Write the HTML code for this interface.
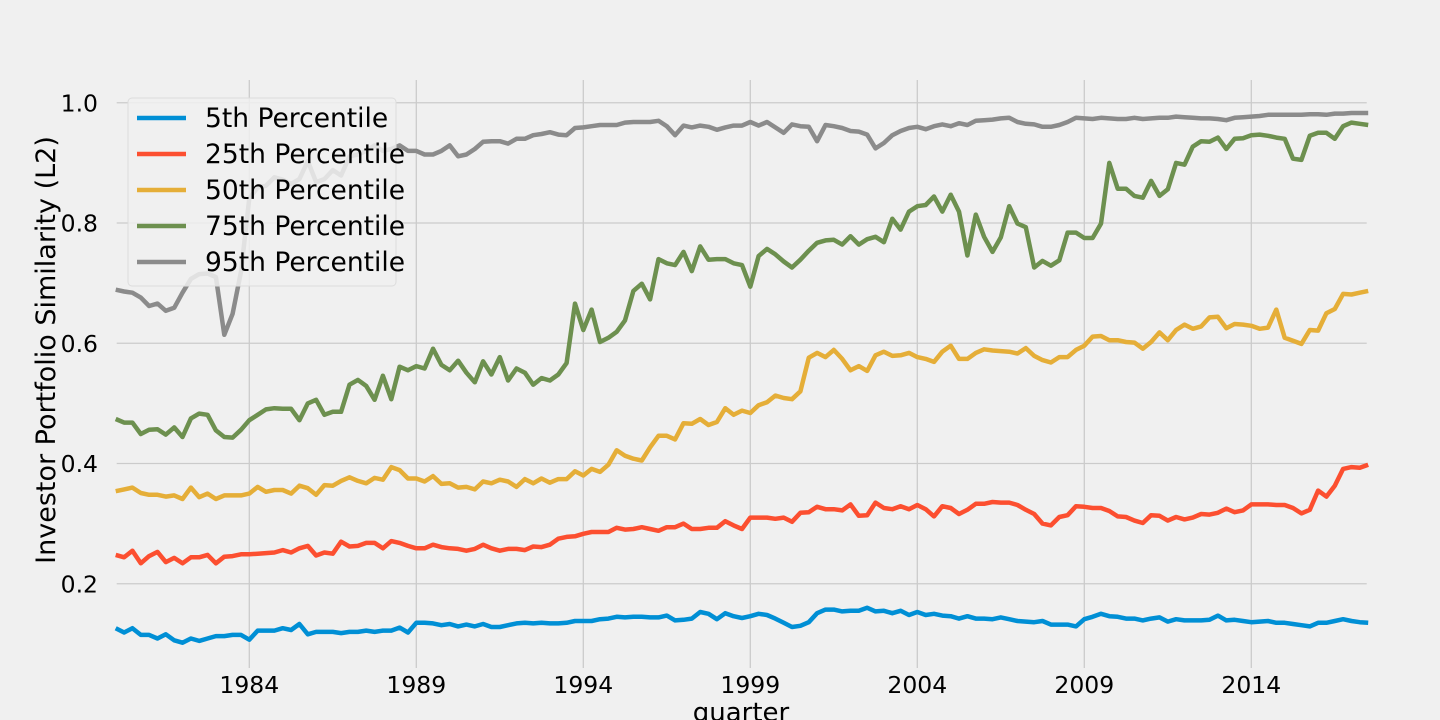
<!DOCTYPE html>
<html><head><meta charset="utf-8"><style>
html,body{margin:0;padding:0;background:#f0f0f0;}
svg{display:block;font-family:"DejaVu Sans","Liberation Sans",sans-serif;}
</style></head><body>
<svg id="chart" width="1440" height="720" viewBox="0 0 1440 720">
<rect x="0" y="0" width="1440" height="720" fill="#f0f0f0"/>
<g id="grid"></g>
<g id="yticks"></g>
<g id="xticks"></g>
<g id="series"></g>
<text x="55" y="350" font-size="27" text-anchor="middle" fill="#000" transform="rotate(-90 55 350)">Investor Portfolio Similarity (L2)</text>
<text x="741" y="721" font-size="26" text-anchor="middle" fill="#000">quarter</text>
<g id="legend"></g>
</svg>
<script>
const seriesNames = ["5th Percentile","25th Percentile","50th Percentile","75th Percentile","95th Percentile"];
const seriesColors = ["#008fd5","#fc4f30","#e5ae38","#6d904f","#8b8b8b"];
const startYear = 1980.0;
const yTicks = [0.2,0.4,0.6,0.8,1.0];
const yTickLabels = ["0.2","0.4","0.6","0.8","1.0"];
const xTicks = [1984,1989,1994,1999,2004,2009,2014];
const xTickLabels = ["1984","1989","1994","1999","2004","2009","2014"];
const p5 = [.126,.119,.126,.115,.115,.109,.116,.106,.102,.109,.105,.109,.113,.113,.115,.115,.107,.122,.122,.122,.126,.123,.133,.116,.120,.120,.120,.118,.120,.120,.122,.120,.122,.122,.127,.119,.135,.135,.134,.131,
.133,.129,.132,.129,.133,.128,.128,.131,.134,.135,.134,.135,.134,.134,.135,.138,.138,.138,.141,.142,.145,.144,.145,.145,.144,.144,.147,.139,.140,.142,.153,.150,.141,.151,.146,.143,.146,.150,
.148,.142,.135,.128,.130,.136,.151,.157,.157,.154,.155,.155,.160,.154,.155,.151,.155,.148,.153,.148,.150,.147,.146,.142,.146,.142,.142,.141,.144,.141,.138,.137,.136,.138,.132,.132,
.132,.129,.141,.145,.150,.146,.145,.142,.142,.139,.142,.144,.137,.141,.139,.139,.139,.140,.147,.139,.140,.138,.136,.137,.138,.135,.135,.133,.131,.129,.135,.135,.138,.141,.138,.136,.135];
const p25 = [.248,.244,.255,.234,.246,.253,.236,.243,.234,.244,.244,.248,.234,.245,.246,.249,.249,.250,.251,.252,.256,.252,.259,.263,.247,.252,.250,.270,.262,.263,.268,.268,.259,.271,.268,.263,.259,.259,.265,.261,
.259,.258,.255,.258,.265,.259,.255,.258,.258,.256,.262,.261,.265,.275,.278,.279,.283,.286,.286,.286,.293,.290,.291,.294,.291,.288,.294,.294,.300,.291,.291,.293,.293,.304,.297,.291,.310,.310,
.310,.308,.310,.303,.318,.319,.328,.324,.324,.322,.332,.313,.314,.335,.326,.324,.329,.324,.331,.324,.312,.329,.326,.316,.323,.333,.333,.336,.335,.335,.331,.323,.316,.300,.297,.311,
.314,.329,.328,.326,.326,.321,.312,.311,.305,.301,.314,.313,.305,.311,.307,.310,.316,.315,.318,.325,.319,.322,.332,.332,.332,.331,.331,.326,.317,.323,.355,.345,.363,.391,.394,.393,.398];
const p50 = [.354,.357,.360,.351,.348,.348,.345,.347,.341,.360,.344,.350,.341,.347,.347,.347,.350,.361,.353,.356,.356,.350,.363,.359,.348,.364,.363,.371,.377,.371,.367,.376,.373,.394,.389,.375,.375,.370,.379,.366,
.367,.360,.361,.357,.370,.367,.373,.370,.361,.374,.367,.375,.368,.374,.374,.387,.380,.391,.386,.398,.422,.413,.408,.405,.427,.446,.446,.440,.467,.466,.474,.464,.469,.492,.481,.488,.484,.497,
.502,.513,.509,.507,.520,.576,.584,.577,.589,.574,.555,.562,.554,.580,.586,.579,.580,.584,.577,.574,.569,.586,.596,.574,.574,.584,.590,.588,.587,.586,.583,.592,.579,.572,.568,.577,
.577,.589,.596,.611,.612,.605,.605,.602,.601,.591,.602,.618,.605,.622,.631,.624,.628,.643,.644,.625,.632,.631,.629,.624,.626,.656,.609,.604,.599,.622,.621,.650,.657,.682,.681,.684,.687];
const p75 = [.474,.468,.468,.449,.456,.457,.448,.460,.444,.475,.483,.481,.455,.444,.443,.456,.472,.481,.490,.492,.491,.491,.472,.500,.506,.481,.486,.486,.531,.539,.529,.506,.546,.507,.561,.555,.562,.558,.591,.564,
.555,.571,.551,.535,.570,.548,.577,.538,.558,.551,.531,.542,.538,.548,.567,.666,.622,.656,.602,.609,.619,.638,.687,.699,.673,.740,.733,.730,.752,.720,.761,.739,.740,.740,.733,.730,.694,.745,
.757,.748,.736,.726,.739,.754,.767,.771,.772,.764,.778,.764,.773,.777,.768,.807,.789,.819,.828,.830,.844,.819,.847,.819,.746,.814,.777,.752,.776,.828,.799,.793,.726,.737,.729,.738,
.784,.784,.775,.775,.799,.900,.857,.857,.845,.842,.870,.845,.856,.900,.897,.927,.936,.935,.942,.923,.940,.941,.946,.947,.945,.942,.940,.907,.905,.945,.950,.950,.940,.961,.967,.965,.963];
const p95 = [.689,.686,.684,.676,.662,.666,.654,.659,.684,.707,.715,.716,.710,.614,.649,.719,.841,.859,.862,.876,.872,.865,.873,.903,.868,.873,.888,.879,.911,.914,.920,.929,.920,.923,.929,.920,.920,.914,.914,.920,
.929,.911,.914,.923,.935,.936,.936,.932,.940,.940,.946,.948,.951,.947,.946,.958,.959,.961,.963,.963,.963,.967,.968,.968,.968,.970,.961,.946,.962,.959,.962,.960,.955,.959,.962,.962,.968,.962,
.968,.959,.950,.964,.961,.960,.936,.963,.961,.958,.953,.952,.947,.924,.933,.946,.953,.958,.960,.956,.961,.964,.961,.966,.963,.970,.971,.972,.974,.975,.968,.965,.964,.960,.960,.963,
.968,.975,.974,.973,.975,.974,.973,.973,.975,.973,.974,.975,.975,.977,.976,.975,.974,.974,.973,.971,.975,.976,.977,.978,.980,.980,.980,.980,.980,.981,.981,.980,.982,.982,.983,.983,.983];
const allSeries = [p5,p25,p50,p75,p95];

const NS="http://www.w3.org/2000/svg";
const L=116.7,R=1366.7,T=80,B=668;
function xYear(yr){return 249.3+(yr-1984)*33.4;}
function xIdx(i){return xYear(startYear+i*0.25);}
function yVal(v){return 704-601.25*v;}
function mk(tag,attrs,parent){const e=document.createElementNS(NS,tag);for(const k in attrs)e.setAttribute(k,attrs[k]);parent.appendChild(e);return e;}

const grid=document.getElementById('grid');
const yt=document.getElementById('yticks');
const xt=document.getElementById('xticks');
yTicks.forEach((v,k)=>{
  const ln=mk('line',{x1:L,x2:R,y1:yVal(v),y2:yVal(v),stroke:'#cbcbcb','stroke-width':1.3},grid);
  
  
  const t=mk('text',{x:98,y:yVal(v)+8.5,'font-size':23.5,'text-anchor':'end',fill:'#000'},yt);
  t.textContent=yTickLabels[k];
  
  
});
xTicks.forEach((yr,k)=>{
  const ln=mk('line',{x1:xYear(yr),x2:xYear(yr),y1:T,y2:B,stroke:'#cbcbcb','stroke-width':1.3},grid);
  
  
  const t=mk('text',{x:xYear(yr),y:693,'font-size':23.5,'text-anchor':'middle',fill:'#000'},xt);
  t.textContent=xTickLabels[k];
  
  
});

const sg=document.getElementById('series');
allSeries.forEach((arr,s)=>{
  const pts=arr.map((v,i)=>xIdx(i).toFixed(1)+','+yVal(v).toFixed(1)).join(' ');
  const pl=mk('polyline',{points:pts,fill:'none',stroke:seriesColors[s],'stroke-width':4.5,'stroke-linejoin':'round'},sg);
  
  
});

const lg=document.getElementById('legend');
const box=mk('rect',{x:128,y:98,width:268,height:188,rx:4,fill:'#f0f0f0','fill-opacity':0.85,stroke:'#dcdcdc','stroke-width':1},lg);


seriesNames.forEach((n,s)=>{
  const cy=118+s*36;
  const g=mk('g',{},lg);
  
  
  mk('line',{x1:137,x2:186,y1:cy,y2:cy,stroke:seriesColors[s],'stroke-width':4.5},g);
  const t=mk('text',{x:205,y:cy+9,'font-size':26.5,fill:'#000'},g);
  t.textContent=n;
});
</script>
</body></html>
